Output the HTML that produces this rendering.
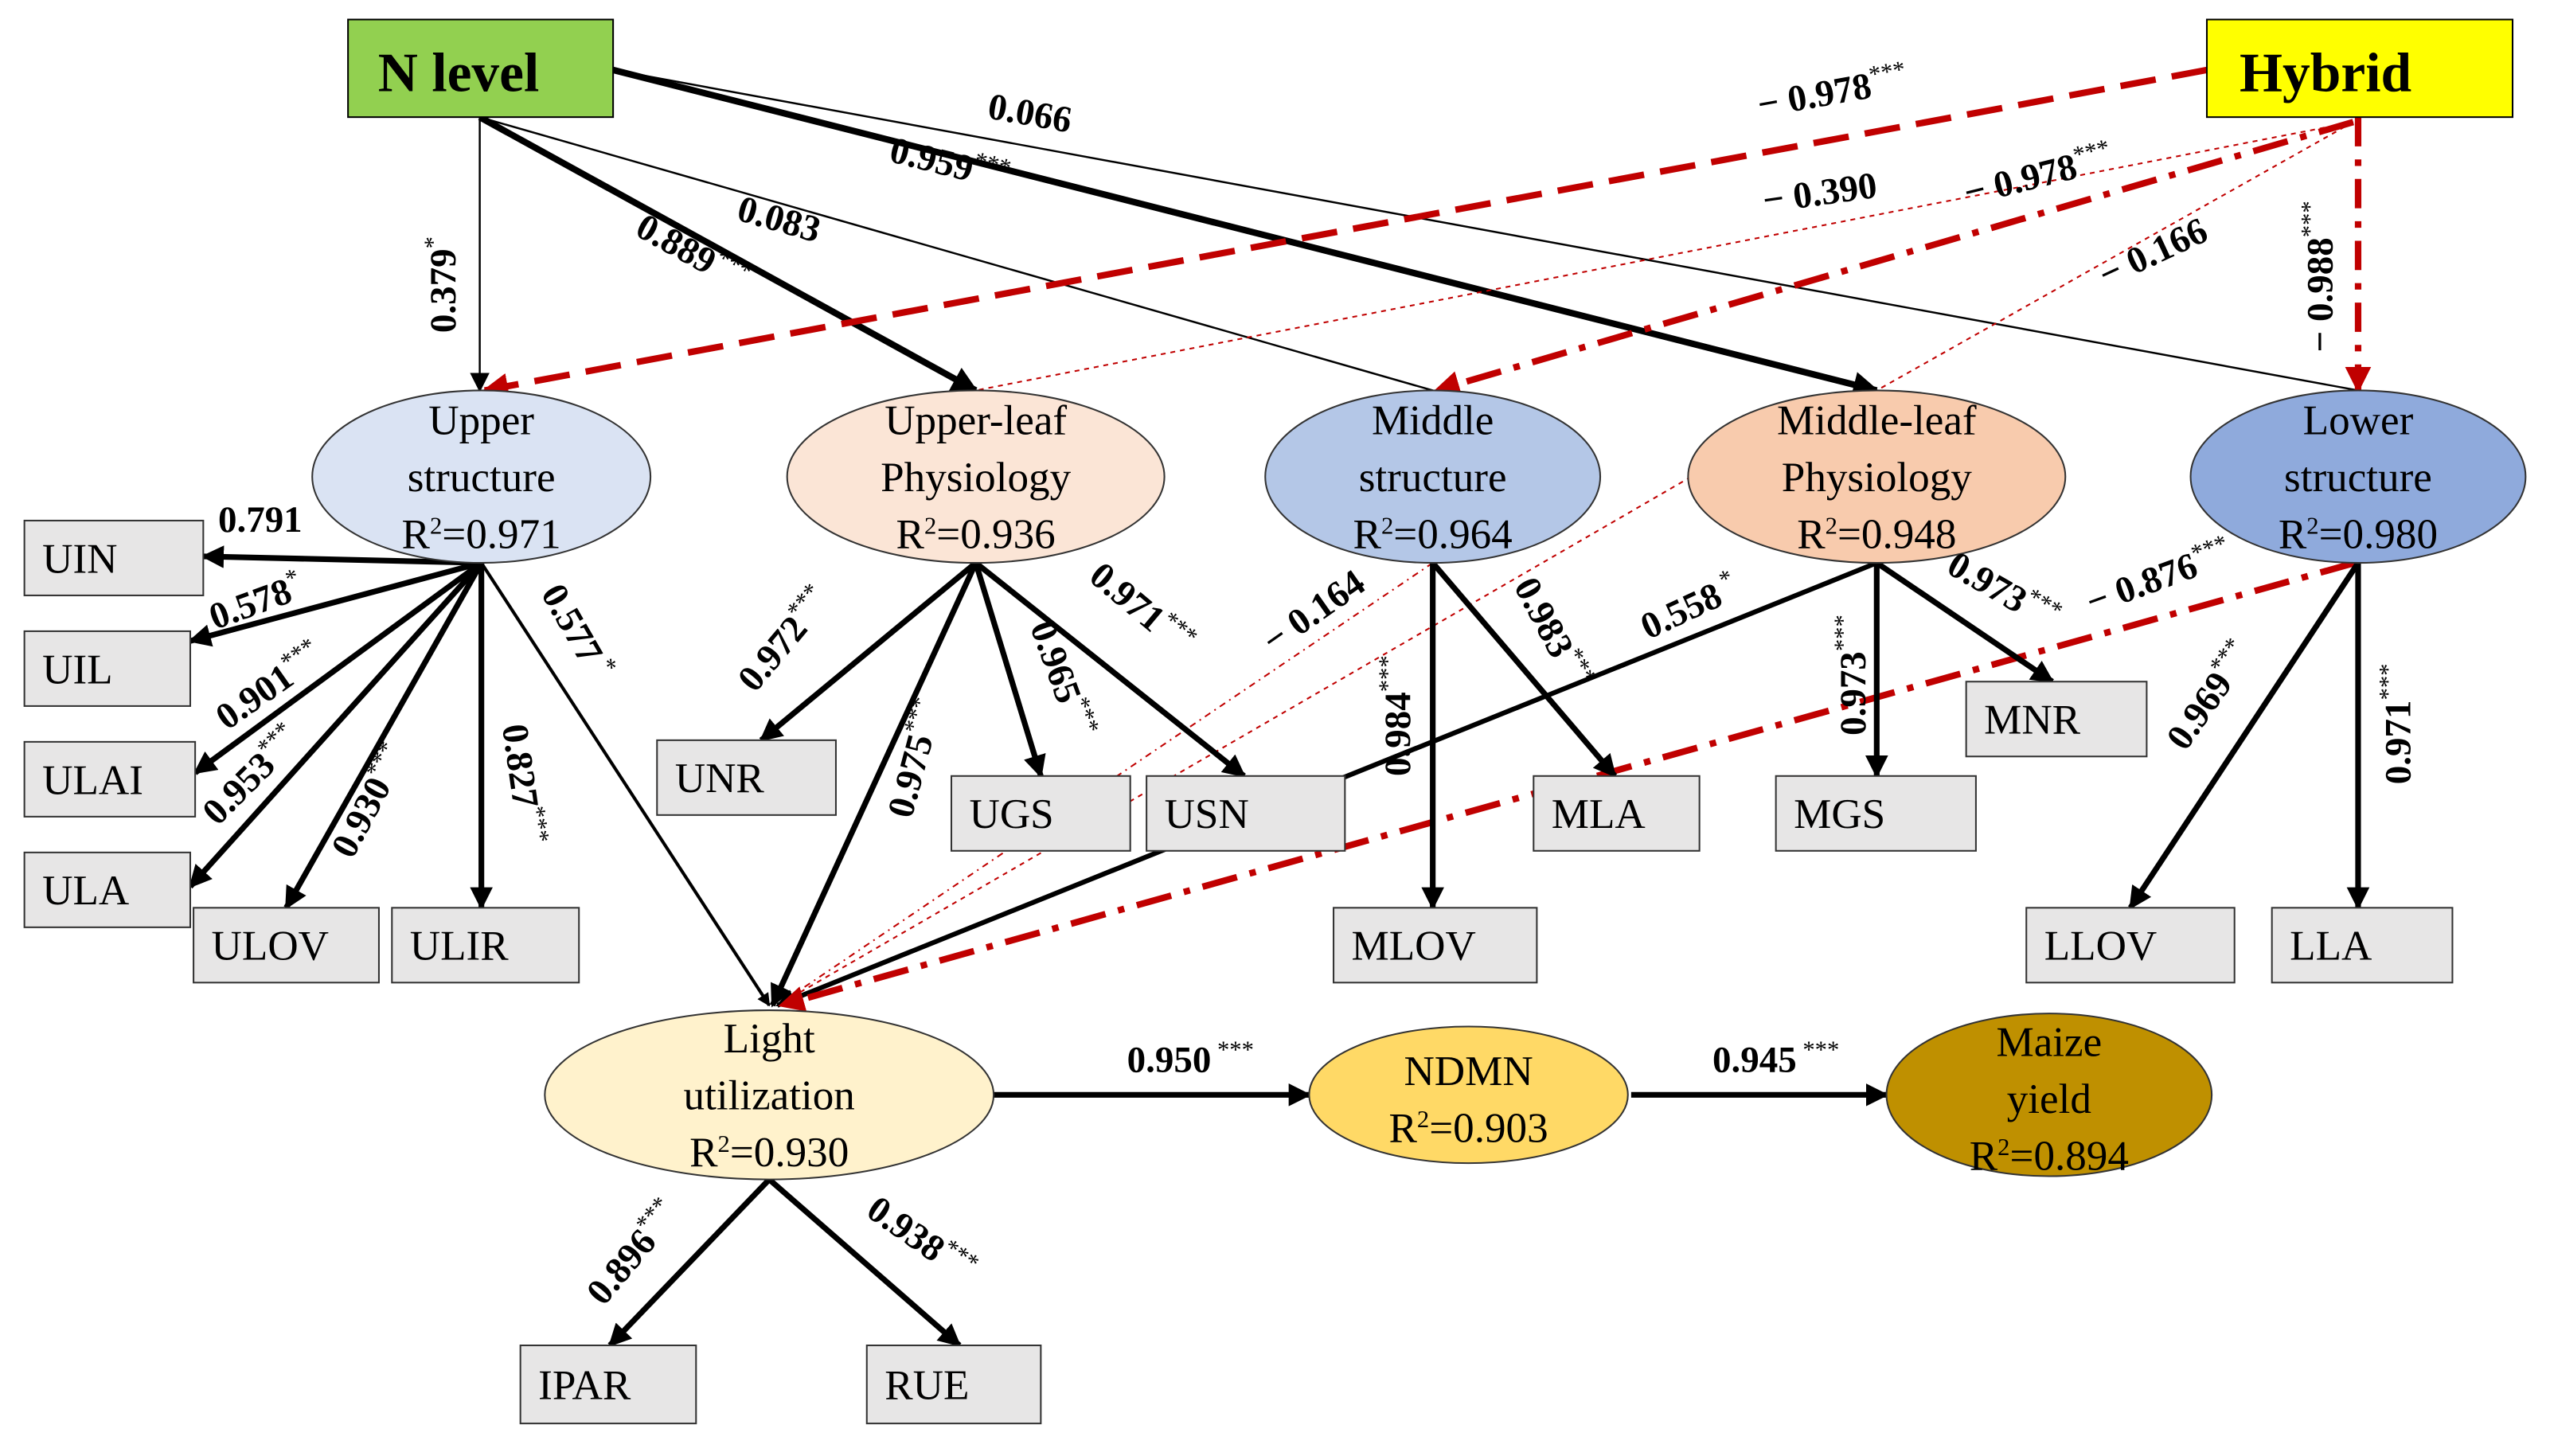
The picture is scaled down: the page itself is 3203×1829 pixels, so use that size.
<!DOCTYPE html>
<html><head><meta charset="utf-8">
<style>
html,body{margin:0;padding:0;background:#fff;}
svg{display:block;font-family:"Liberation Serif","Times New Roman",serif;}
text{font-family:"Liberation Serif","Times New Roman",serif;}
.n{font-size:26px;fill:#000;text-anchor:middle;}
.b{font-size:26px;fill:#000;}
.c{font-size:23px;font-weight:bold;fill:#000;text-anchor:middle;}
.s{font-size:15px;font-weight:normal;}
</style></head><body>
<svg width="3203" height="1829" viewBox="0 0 1568 895" preserveAspectRatio="none" xmlns="http://www.w3.org/2000/svg" font-family="Liberation Serif, serif">
<defs>
<marker id="ab" viewBox="0 0 10 10" refX="9" refY="5" markerWidth="4" markerHeight="4" orient="auto"><path d="M0,0 L10,5 L0,10 z" fill="#000"/></marker>
<marker id="ar" viewBox="0 0 10 10" refX="9" refY="5" markerWidth="4" markerHeight="4" orient="auto"><path d="M0,0 L10,5 L0,10 z" fill="#c00000"/></marker>
<marker id="at" viewBox="0 0 10 10" refX="9" refY="5" markerWidth="12" markerHeight="12" markerUnits="userSpaceOnUse" orient="auto"><path d="M0,0 L10,5 L0,10 z" fill="#000"/></marker>
</defs>

<line x1="295" y1="72" x2="295" y2="240" stroke="#000" stroke-width="1.2" marker-end="url(#at)"/>
<line x1="295" y1="72" x2="600" y2="240" stroke="#000" stroke-width="4" marker-end="url(#ab)"/>
<line x1="295" y1="72" x2="881" y2="240" stroke="#000" stroke-width="1.2"/>
<line x1="377" y1="43" x2="1154" y2="240" stroke="#000" stroke-width="4" marker-end="url(#ab)"/>
<line x1="377" y1="43" x2="1450" y2="240" stroke="#000" stroke-width="1.2"/>

<line x1="1357" y1="43" x2="298" y2="240" stroke="#c00000" stroke-width="4" stroke-dasharray="22,10" marker-end="url(#ar)"/>
<line x1="1447" y1="75" x2="600" y2="240" stroke="#c00000" stroke-width="1" stroke-dasharray="3,3"/>
<line x1="1447" y1="75" x2="883" y2="240" stroke="#c00000" stroke-width="4" stroke-dasharray="22,8,4,8" marker-end="url(#ar)"/>
<line x1="1447" y1="75" x2="1154" y2="240" stroke="#c00000" stroke-width="1" stroke-dasharray="3,3"/>
<line x1="1450" y1="72" x2="1450" y2="240" stroke="#c00000" stroke-width="4" stroke-dasharray="18,8,4,8" marker-end="url(#ar)"/>

<line x1="881" y1="346" x2="478" y2="618" stroke="#c00000" stroke-width="1" stroke-dasharray="4,3,1,3"/>
<line x1="1040" y1="293" x2="478" y2="618" stroke="#c00000" stroke-width="1" stroke-dasharray="3,3"/>
<line x1="1154" y1="346" x2="478" y2="618" stroke="#000" stroke-width="3" marker-end="url(#ab)"/>
<line x1="1448" y1="346" x2="480" y2="618" stroke="#c00000" stroke-width="4" stroke-dasharray="22,8,4,8" marker-end="url(#ar)"/>
<line x1="600" y1="346" x2="475" y2="618" stroke="#000" stroke-width="3.5" marker-end="url(#ab)"/>
<line x1="296" y1="346" x2="473" y2="618" stroke="#000" stroke-width="2" marker-end="url(#ab)"/>

<g stroke="#000" stroke-width="3.5" marker-end="url(#ab)">
<line x1="296" y1="346" x2="125" y2="342"/>
<line x1="296" y1="346" x2="117" y2="394"/>
<line x1="296" y1="346" x2="120" y2="475"/>
<line x1="296" y1="346" x2="117" y2="545"/>
<line x1="296" y1="346" x2="176" y2="558"/>
<line x1="296" y1="346" x2="296" y2="558"/>
<line x1="600" y1="346" x2="468" y2="455"/>
<line x1="600" y1="346" x2="640" y2="477"/>
<line x1="600" y1="346" x2="765" y2="477"/>
<line x1="881" y1="346" x2="881" y2="558"/>
<line x1="881" y1="346" x2="993" y2="477"/>
<line x1="1154" y1="346" x2="1154" y2="477"/>
<line x1="1154" y1="346" x2="1262" y2="419"/>
<line x1="1450" y1="346" x2="1310" y2="558"/>
<line x1="1450" y1="346" x2="1450" y2="558"/>
<line x1="611" y1="673" x2="805" y2="673"/>
<line x1="1003" y1="673" x2="1160" y2="673"/>
<line x1="473" y1="725" x2="375" y2="827"/>
<line x1="473" y1="725" x2="590" y2="827"/>
</g>

<rect x="214" y="12" width="163" height="60" fill="#92d050" stroke="#000" stroke-width="1"/>
<text x="282" y="56" style="font-size:34px;font-weight:bold;text-anchor:middle;">N level</text>
<rect x="1357" y="12" width="188" height="60" fill="#ffff00" stroke="#000" stroke-width="1"/>
<text x="1430" y="56" style="font-size:34px;font-weight:bold;text-anchor:middle;">Hybrid</text>

<g stroke="#333" stroke-width="1">
<ellipse cx="296" cy="293" rx="104" ry="53" fill="#dae3f3"/>
<ellipse cx="600" cy="293" rx="116" ry="53" fill="#fbe5d6"/>
<ellipse cx="881" cy="293" rx="103" ry="53" fill="#b4c7e7"/>
<ellipse cx="1154" cy="293" rx="116" ry="53" fill="#f8cbad"/>
<ellipse cx="1450" cy="293" rx="103" ry="53" fill="#8faadc"/>
<ellipse cx="473" cy="673" rx="138" ry="52" fill="#fff2cc"/>
<ellipse cx="903" cy="673" rx="98" ry="42" fill="#ffd966"/>
<ellipse cx="1260" cy="673" rx="100" ry="50" fill="#bf9000"/>
</g>
<text class="n" x="296" y="267">Upper</text><text class="n" x="296" y="302">structure</text><text class="n" x="296" y="337">R<tspan dy="-9" font-size="15">2</tspan><tspan dy="9">=0.971</tspan></text>
<text class="n" x="600" y="267">Upper-leaf</text><text class="n" x="600" y="302">Physiology</text><text class="n" x="600" y="337">R<tspan dy="-9" font-size="15">2</tspan><tspan dy="9">=0.936</tspan></text>
<text class="n" x="881" y="267">Middle</text><text class="n" x="881" y="302">structure</text><text class="n" x="881" y="337">R<tspan dy="-9" font-size="15">2</tspan><tspan dy="9">=0.964</tspan></text>
<text class="n" x="1154" y="267">Middle-leaf</text><text class="n" x="1154" y="302">Physiology</text><text class="n" x="1154" y="337">R<tspan dy="-9" font-size="15">2</tspan><tspan dy="9">=0.948</tspan></text>
<text class="n" x="1450" y="267">Lower</text><text class="n" x="1450" y="302">structure</text><text class="n" x="1450" y="337">R<tspan dy="-9" font-size="15">2</tspan><tspan dy="9">=0.980</tspan></text>
<text class="n" x="473" y="647">Light</text><text class="n" x="473" y="682">utilization</text><text class="n" x="473" y="717">R<tspan dy="-9" font-size="15">2</tspan><tspan dy="9">=0.930</tspan></text>
<text class="n" x="903" y="667">NDMN</text><text class="n" x="903" y="702">R<tspan dy="-9" font-size="15">2</tspan><tspan dy="9">=0.903</tspan></text>
<text class="n" x="1260" y="649">Maize</text><text class="n" x="1260" y="684">yield</text><text class="n" x="1260" y="719">R<tspan dy="-9" font-size="15">2</tspan><tspan dy="9">=0.894</tspan></text>

<g fill="#e7e6e6" stroke="#333" stroke-width="1">
<rect x="15" y="320" width="110" height="46"/>
<rect x="15" y="388" width="102" height="46"/>
<rect x="15" y="456" width="105" height="46"/>
<rect x="15" y="524" width="102" height="46"/>
<rect x="119" y="558" width="114" height="46"/>
<rect x="241" y="558" width="115" height="46"/>
<rect x="404" y="455" width="110" height="46"/>
<rect x="585" y="477" width="110" height="46"/>
<rect x="705" y="477" width="122" height="46"/>
<rect x="943" y="477" width="102" height="46"/>
<rect x="820" y="558" width="125" height="46"/>
<rect x="1092" y="477" width="123" height="46"/>
<rect x="1209" y="419" width="111" height="46"/>
<rect x="1246" y="558" width="128" height="46"/>
<rect x="1397" y="558" width="111" height="46"/>
<rect x="320" y="827" width="108" height="48"/>
<rect x="533" y="827" width="107" height="48"/>
</g>
<text class="b" x="26" y="352">UIN</text>
<text class="b" x="26" y="420">UIL</text>
<text class="b" x="26" y="488">ULAI</text>
<text class="b" x="26" y="556">ULA</text>
<text class="b" x="130" y="590">ULOV</text>
<text class="b" x="252" y="590">ULIR</text>
<text class="b" x="415" y="487">UNR</text>
<text class="b" x="596" y="509">UGS</text>
<text class="b" x="716" y="509">USN</text>
<text class="b" x="954" y="509">MLA</text>
<text class="b" x="831" y="590">MLOV</text>
<text class="b" x="1103" y="509">MGS</text>
<text class="b" x="1220" y="451">MNR</text>
<text class="b" x="1257" y="590">LLOV</text>
<text class="b" x="1408" y="590">LLA</text>
<text class="b" x="331" y="860">IPAR</text>
<text class="b" x="544" y="860">RUE</text>

<text class="c" transform="translate(280,175) rotate(-90)">0.379<tspan class="s" dy="-9">*</tspan></text>
<text class="c" transform="translate(422,162) rotate(29)">0.889<tspan class="s" dy="-9">***</tspan></text>
<text class="c" transform="translate(477,142) rotate(16)">0.083</text>
<text class="c" transform="translate(582,108) rotate(14)">0.959<tspan class="s" dy="-9">***</tspan></text>
<text class="c" transform="translate(632,77) rotate(10)">0.066</text>
<text class="c" transform="translate(1128,64) rotate(-10)">− 0.978<tspan class="s" dy="-9">***</tspan></text>
<text class="c" transform="translate(1120,126) rotate(-8)">− 0.390</text>
<text class="c" transform="translate(1255,115) rotate(-14)">− 0.978<tspan class="s" dy="-9">***</tspan></text>
<text class="c" transform="translate(1327,162) rotate(-25)">− 0.166</text>
<text class="c" transform="translate(1434,170) rotate(-90)">− 0.988<tspan class="s" dy="-9">***</tspan></text>
<text class="c" x="160" y="327">0.791</text>
<text class="c" transform="translate(160,377) rotate(-20)">0.578<tspan class="s" dy="-9">*</tspan></text>
<text class="c" transform="translate(170,428) rotate(-35)">0.901<tspan class="s" dy="-9">***</tspan></text>
<text class="c" transform="translate(160,482) rotate(-45)">0.953<tspan class="s" dy="-9">***</tspan></text>
<text class="c" transform="translate(234,496) rotate(-62)">0.930<tspan class="s" dy="-9">***</tspan></text>
<text class="c" transform="translate(314,483) rotate(82)">0.827<tspan class="s" dy="-9">***</tspan></text>
<text class="c" transform="translate(348,392) rotate(60)">0.577<tspan class="s" dy="-9"> *</tspan></text>
<text class="c" transform="translate(488,398) rotate(-50)">0.972<tspan class="s" dy="-9">***</tspan></text>
<text class="c" transform="translate(570,468) rotate(-75)">0.975<tspan class="s" dy="-9">***</tspan></text>
<text class="c" transform="translate(646,420) rotate(70)">0.965<tspan class="s" dy="-9">***</tspan></text>
<text class="c" transform="translate(697,380) rotate(40)">0.971<tspan class="s" dy="-9">***</tspan></text>
<text class="c" transform="translate(812,382) rotate(-35)">− 0.164</text>
<text class="c" transform="translate(867,440) rotate(-90)">0.984<tspan class="s" dy="-9">***</tspan></text>
<text class="c" transform="translate(948,393) rotate(62)">0.983<tspan class="s" dy="-9">***</tspan></text>
<text class="c" transform="translate(1042,380) rotate(-25)">0.558<tspan class="s" dy="-9"> *</tspan></text>
<text class="c" transform="translate(1147,415) rotate(-90)">0.973<tspan class="s" dy="-9">***</tspan></text>
<text class="c" transform="translate(1228,370) rotate(30)">0.973<tspan class="s" dy="-9">***</tspan></text>
<text class="c" transform="translate(1330,362) rotate(-20)">− 0.876<tspan class="s" dy="-9">***</tspan></text>
<text class="c" transform="translate(1365,432) rotate(-55)">0.969<tspan class="s" dy="-9">***</tspan></text>
<text class="c" transform="translate(1482,445) rotate(-90)">0.971<tspan class="s" dy="-9">***</tspan></text>
<text class="c" x="732" y="659">0.950<tspan class="s" dy="-9"> ***</tspan></text>
<text class="c" x="1092" y="659">0.945<tspan class="s" dy="-9"> ***</tspan></text>
<text class="c" transform="translate(395,775) rotate(-50)">0.896<tspan class="s" dy="-9">***</tspan></text>
<text class="c" transform="translate(562,768) rotate(35)">0.938<tspan class="s" dy="-9">***</tspan></text>
</svg>
</body></html>
